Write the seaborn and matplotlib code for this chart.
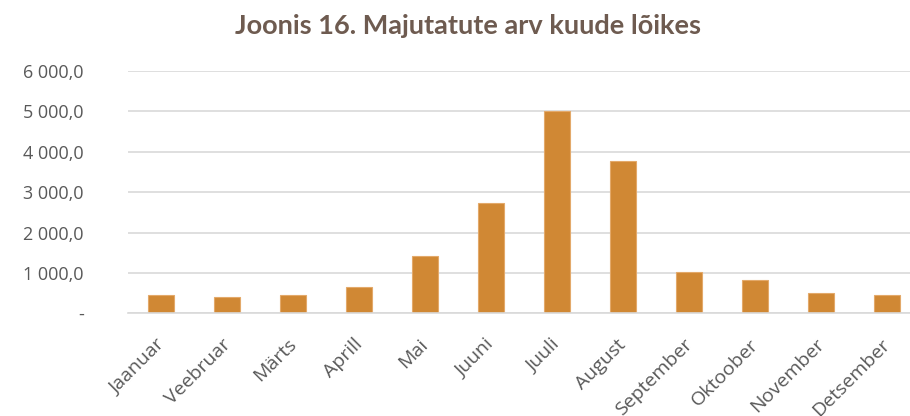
import numpy as np
import pandas as pd
import matplotlib
matplotlib.use("Agg")
import matplotlib.pyplot as plt
import matplotlib.transforms as mtrans
import seaborn as sns

months = ['Jaanuar', 'Veebruar', 'Märts', 'Aprill', 'Mai', 'Juuni', 'Juuli',
          'August', 'September', 'Oktoober', 'November', 'Detsember']
guests = [446, 397, 446, 645, 1421, 2727, 5024, 3784, 1024, 826, 496, 446]
yticks = [0, 1000, 2000, 3000, 4000, 5000, 6000]
ytick_labels = ['-', '1 000,0', '2 000,0', '3 000,0', '4 000,0', '5 000,0', '6 000,0']

sns.set_style("white")
plt.rcParams['font.family'] = ['Open Sans', 'DejaVu Sans']

df = pd.DataFrame({'Kuu': months, 'Majutatud': guests})

fig = plt.figure(figsize=(9.1, 4.16), dpi=100)
ax = fig.add_axes([0.141, 0.247, 0.870, 0.582])
sns.barplot(data=df, x='Kuu', y='Majutatud', color='#D08834', width=0.4,
            edgecolor='#E3A96A', linewidth=0.8, saturation=1, ax=ax)

ax.set_ylim(0, 6000)
ax.set_yticks(yticks)
ax.set_yticklabels(ytick_labels, color='#595959', fontsize=13)
ax.yaxis.grid(True, color='#D9D9D9', linewidth=1.2)
ax.set_axisbelow(True)
ax.tick_params(axis='y', length=0, pad=32)
ax.tick_params(axis='x', length=0, pad=16)
shift = mtrans.ScaledTranslation(-6 / 100, 0, fig.dpi_scale_trans)
for lbl in ax.get_xticklabels():
    lbl.set_rotation(45)
    lbl.set_ha('right')
    lbl.set_rotation_mode('anchor')
    lbl.set_color('#595959')
    lbl.set_fontsize(14)
    lbl.set_transform(lbl.get_transform() + shift)
ax.set_xlabel('')
ax.set_ylabel('')
for s in ['top', 'right', 'left']:
    ax.spines[s].set_visible(False)
ax.spines['bottom'].set_color('#D9D9D9')
ax.spines['bottom'].set_linewidth(1.2)

fig.text(0.514, 0.937, 'Joonis 16. Majutatute arv kuude lõikes', ha='center', va='center',
         fontsize=19.5, fontweight='bold', color='#6E5B50', family=['Lato', 'DejaVu Sans'])

fig.savefig('out.png', dpi=100)
